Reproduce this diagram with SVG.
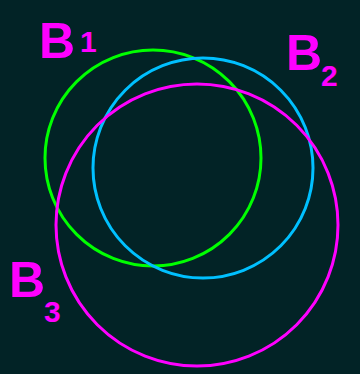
<svg xmlns="http://www.w3.org/2000/svg" width="360" height="374" viewBox="0 0 360 374">
<style>
.c{fill:none;stroke-width:3}
.lb{font-family:"Liberation Sans",Arial,sans-serif;fill:#ff00ff;font-weight:bold}
.big{font-size:50px}
.sub{font-size:30px}
</style>
<rect width="360" height="374" fill="#022326"/>
<g id="circles">
<circle id="green" class="c" cx="153" cy="158" r="108" stroke="#00ff00"/>
<circle id="cyan" class="c" cx="203" cy="168" r="110" stroke="#00c0ff"/>
<circle id="magenta" class="c" cx="197" cy="225" r="141" stroke="#ff00ff"/>
</g>
<g id="label-b1"><text class="lb big" x="39" y="58">B</text><text class="lb sub" x="80" y="52">1</text></g>
<g id="label-b2"><text class="lb big" x="286" y="70">B</text><text class="lb sub" x="321" y="86">2</text></g>
<g id="label-b3"><text class="lb big" x="9" y="297">B</text><text class="lb sub" x="44" y="322">3</text></g>
</svg>
